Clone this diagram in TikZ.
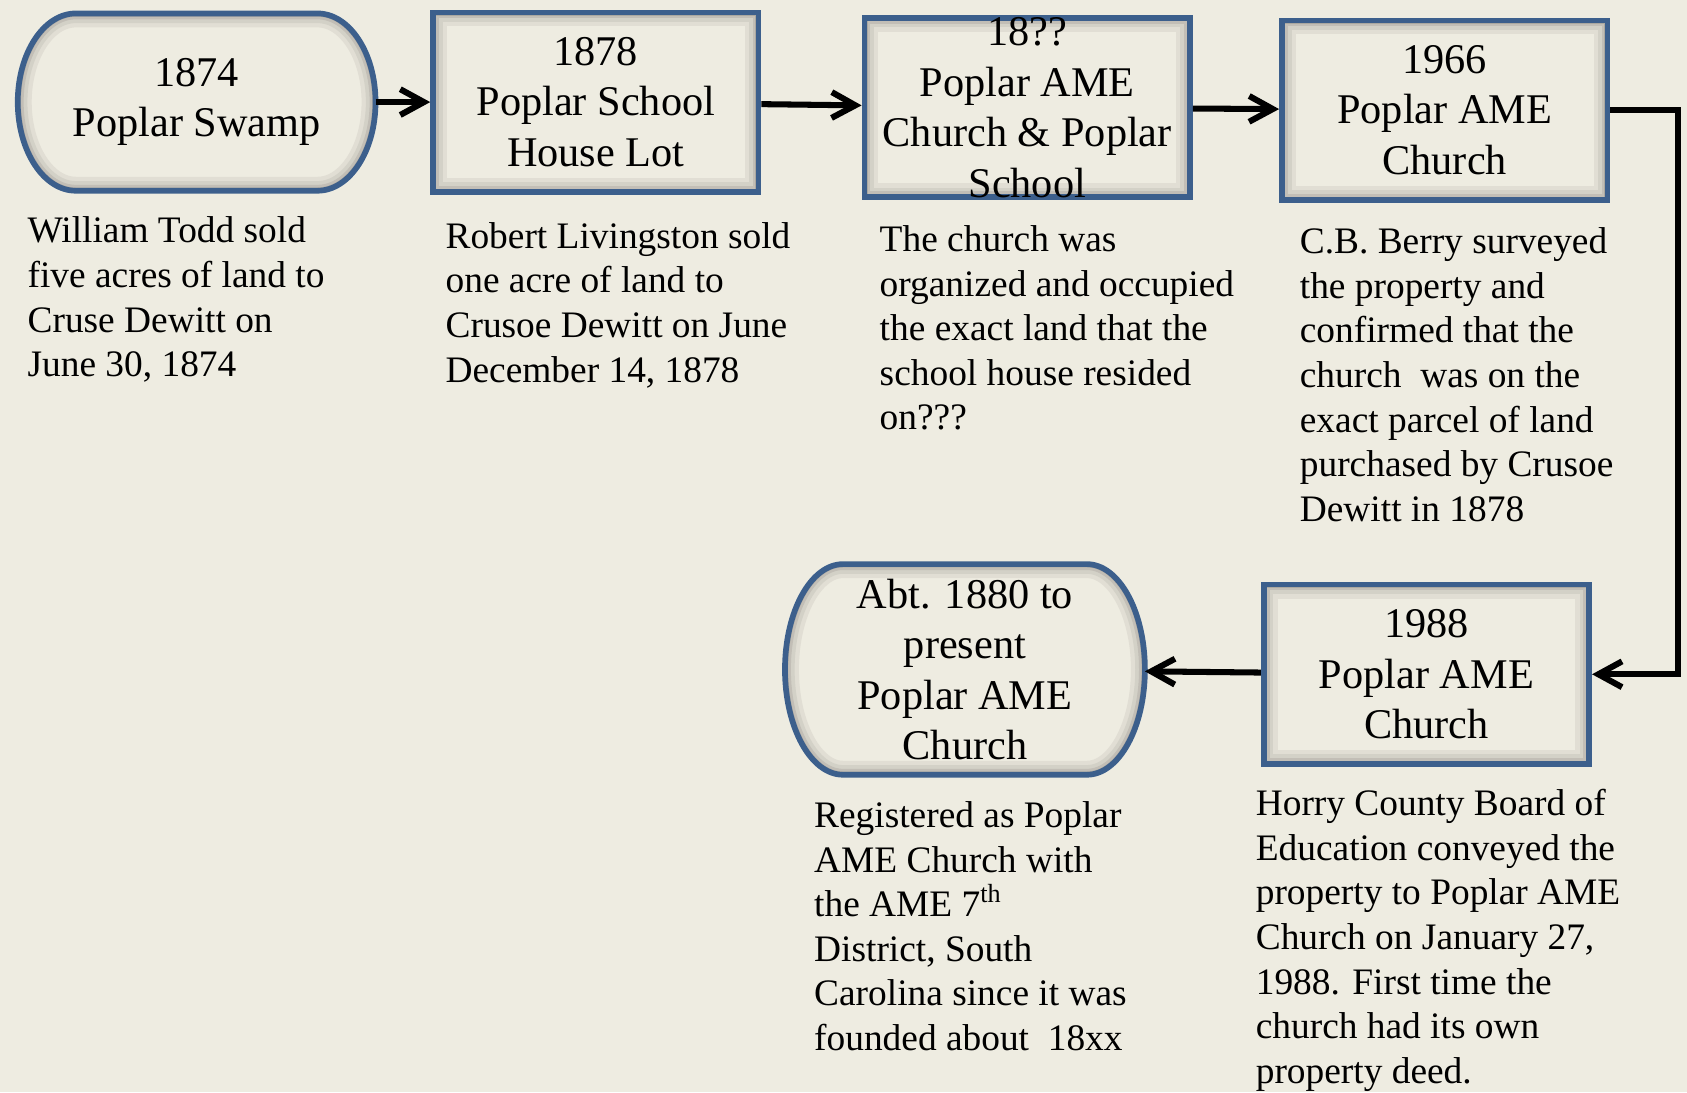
\documentclass[tikz,border=0pt]{standalone}
\usepackage{fontspec}
\setmainfont{Liberation Serif}
\usetikzlibrary{arrows.meta,calc,backgrounds}

\definecolor{paper}{HTML}{EEECE1}
\definecolor{rim}{HTML}{3C5F8C}
\definecolor{shade}{HTML}{95918A}

\newcommand\boxfont{\fontsize{11.2}{13.4}\selectfont}
\newcommand\notefont{\fontsize{9.9}{11.8}\selectfont}

% outline of a terminal node: #1 node, #2 corner x radius
\newcommand\termpath[2]{let \p1=(#1.north west), \p2=(#1.south east), \n1={(\y1-\y2)/2} in
  (\x1+#2,\y1) -- (\x2-#2,\y1) arc[start angle=90,end angle=-90,x radius=#2,y radius=\n1]
  -- (\x1+#2,\y2) arc[start angle=270,end angle=90,x radius=#2,y radius=\n1] -- cycle}

\begin{document}
\begin{tikzpicture}[x=0.1mm,y=-0.1mm,>={Straight Barb[length=2.2mm,width=2.4mm]},
	main node/.style={rectangle,fill=paper,line width=1.5pt,minimum width=30.3mm,minimum height=16.7mm,
		align=center,font=\boxfont,
		path picture={\foreach \w/\s in {2.6/15,1.8/30,1.1/50,0.6/75}
			\draw[line width=\w mm,shade!\s!paper] (path picture bounding box.south west) rectangle (path picture bounding box.north east);},
		postaction={draw=rim}},
	end node/.style={rectangle,outer sep=0pt,align=center,font=\boxfont},
	note/.style={anchor=base west,align=left,inner sep=0pt,font=\notefont}]

	\useasboundingbox (0,0) rectangle (1570,1016.3);

	\node[end node,minimum width=33.3mm,minimum height=16.5mm] (a) at (183,95) {1874\\Poplar Swamp};
	\node[main node] (b) at (554.5,95) {1878\\Poplar School\\House Lot};
	\node[main node,inner ysep=-1pt] (c) at (956,100) {18??\\Poplar AME\\Church \& Poplar\\School};
	\node[main node] (d) at (1344.5,102.5) {1966\\Poplar AME\\Church};
	\node[main node] (e) at (1327.5,627.5) {1988\\Poplar AME\\Church};
	\node[end node,minimum width=33.5mm,minimum height=19.6mm] (f) at (898,623) {Abt. 1880 to\\present\\Poplar AME\\Church};

	% notes sit on the baseline of their last line
	\node[note] (na) at (25,350.5) {William Todd sold\\five acres of land to\\Cruse Dewitt on\\June 30, 1874};
	\node[note] (nb) at (414,355.5) {Robert Livingston sold\\one acre of land to\\Crusoe Dewitt on June\\December 14, 1878};
	\node[note] (nc) at (818,400) {The church was\\organized and occupied\\the exact land that the\\school house resided\\on???};
	\node[note] (nd) at (1209,485) {C.B. Berry surveyed\\the property and\\confirmed that the\\church\ \ was on the\\exact parcel of land\\purchased by Crusoe\\Dewitt in 1878};
	\node[note] (nf) at (757,977.5) {Registered as Poplar\\AME Church with\\the AME 7\textsuperscript{th}\\District, South\\Carolina since it was\\founded about\ \ 18xx};
	\node[note] (ne) at (1168,1008) {Horry County Board of\\Education conveyed the\\property to Poplar AME\\Church on January 27,\\1988. First time the\\church had its own\\property deed.};

	\path[->,line width=1.6pt]
	(a) edge (b)
	(b) edge (c)
	(c) edge (d)
	(e) edge (f);
	\draw[->,line width=1.6pt] (d.east) -- ++(63,0) |- (e.east);

	\begin{scope}[on background layer]
		\fill[paper] (0,0) rectangle (1570,1016.3);
		\foreach \k/\rad in {a/5.4mm,f/5.4mm}{
			\begin{scope}
				\clip \termpath{\k}{\rad};
				\foreach \w/\s in {2.6/15,1.8/30,1.1/50,0.6/75}
					\draw[line width=\w mm,shade!\s!paper] \termpath{\k}{\rad};
			\end{scope}
			\draw[rim,line width=1.5pt] \termpath{\k}{\rad};
		}
	\end{scope}
\end{tikzpicture}
\end{document}
